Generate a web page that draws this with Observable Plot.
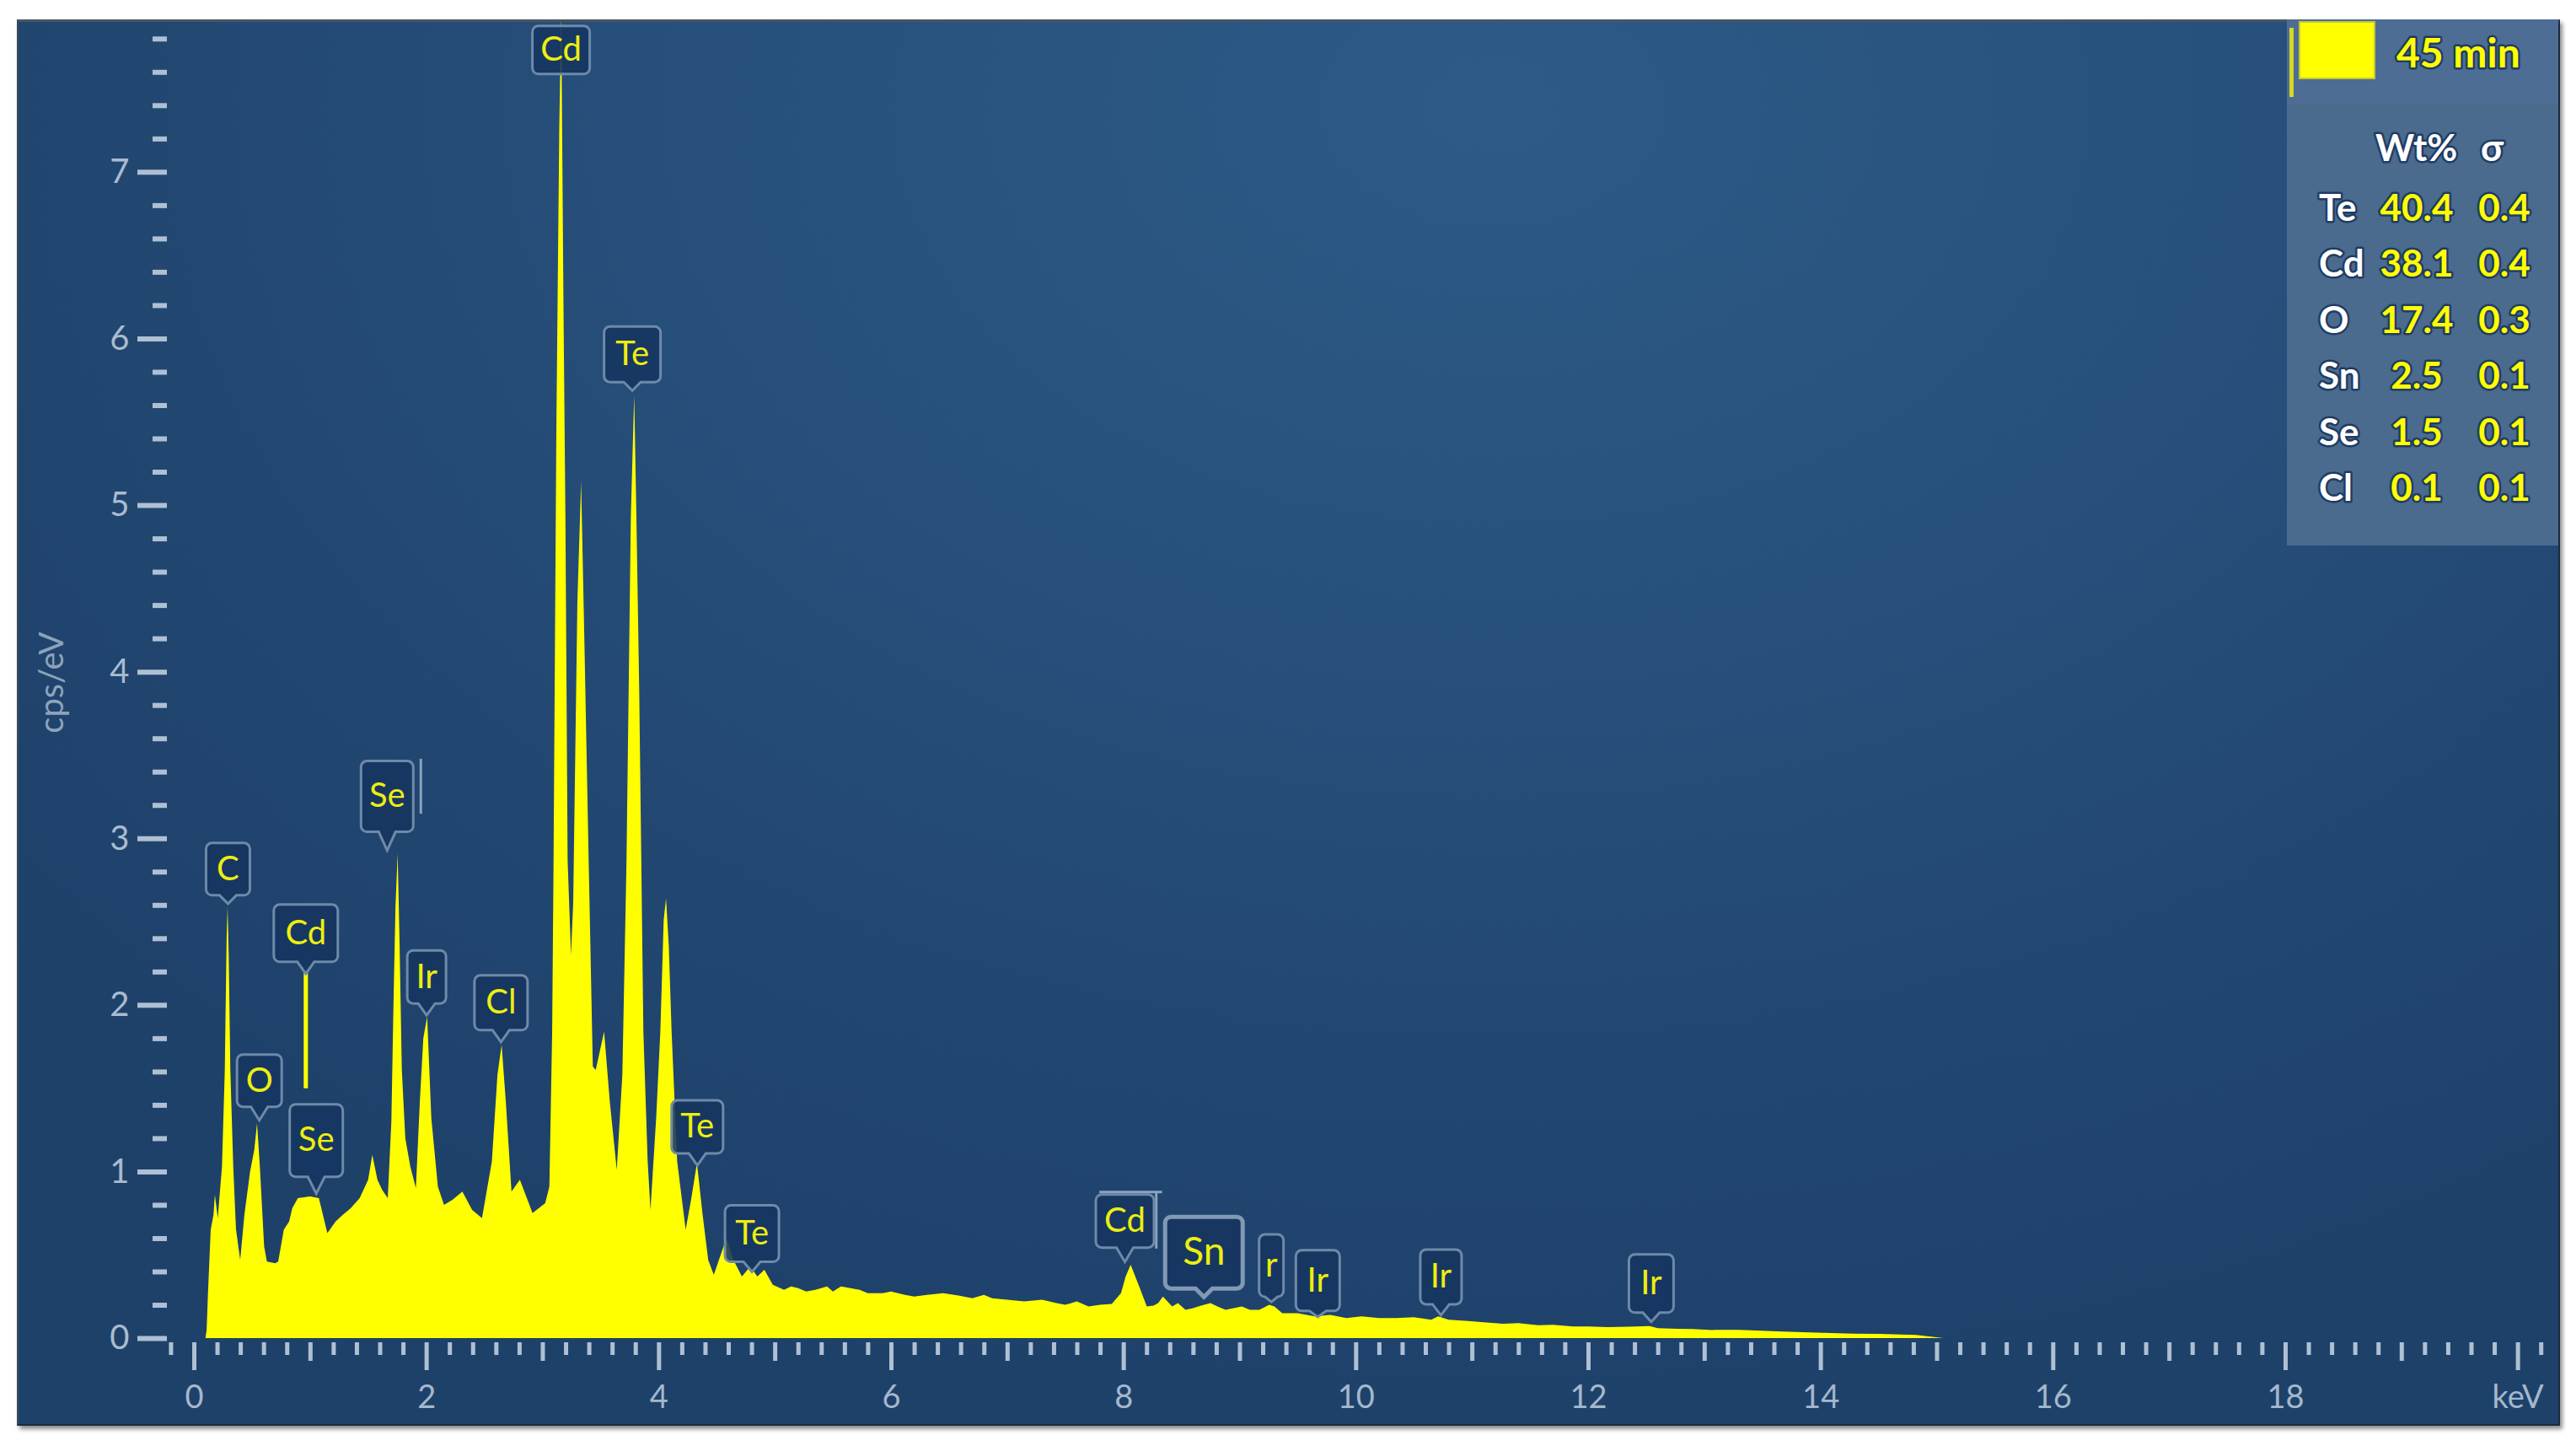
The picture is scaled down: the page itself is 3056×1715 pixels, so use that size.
<!DOCTYPE html>
<html>
<head>
<meta charset="utf-8">
<script src="https://cdn.jsdelivr.net/npm/d3@7"></script>
<script src="https://cdn.jsdelivr.net/npm/@observablehq/plot@0.6"></script>
<style>
html, body { margin: 0; padding: 0; background: #ffffff; }
#wrap { position: relative; width: 3056px; height: 1715px; overflow: hidden; background: #fff; }
#bg { position: absolute; left: 20px; top: 23px; width: 3013px; height: 1663px;
  background: radial-gradient(ellipse 75% 95% at 58% 6%, #2d5a87 0%, #28527e 35%, #214670 75%, #1e416a 100%);
  border-top: 3px solid #4a5560; border-left: 2px solid #3a4856; border-bottom: 2px solid #1a2a3c; border-right: 2px solid #1a2a3c;
  box-shadow: 3px 4px 5px rgba(0,0,0,0.45); }
#chart { position: absolute; left: 0; top: 0; }
#legend { position: absolute; left: 2713px; top: 23px; }
</style>
</head>
<body>
<div id="wrap"><div id="bg"></div><div id="chart"></div><div id="legend"></div></div>
<script>
// ---------------- data ----------------
const spectrumKeV = [0.10,0.11,0.121,0.145,0.169,0.181,0.206,0.242,0.266,0.282,0.290,0.300,0.314,0.339,0.363,0.399,0.435,0.484,0.520,0.544,0.568,0.605,0.629,0.70,0.726,0.774,0.82,0.847,0.895,1.0,1.076,1.149,1.22,1.282,1.35,1.427,1.50,1.536,1.58,1.621,1.669,1.70,1.718,1.735,1.754,1.77,1.79,1.82,1.863,1.911,1.945,1.975,2.008,2.044,2.10,2.153,2.226,2.311,2.395,2.480,2.565,2.613,2.649,2.685,2.734,2.806,2.915,3.024,3.06,3.084,3.096,3.120,3.145,3.162,3.181,3.198,3.217,3.246,3.265,3.301,3.333,3.362,3.398,3.434,3.459,3.531,3.580,3.640,3.688,3.724,3.761,3.790,3.809,3.833,3.869,3.906,3.930,3.979,4.015,4.044,4.064,4.088,4.112,4.160,4.233,4.282,4.33,4.379,4.427,4.475,4.584,4.644,4.717,4.789,4.85,4.910,4.983,
  5.08,5.14,5.20,5.27,5.35,5.45,5.50,5.57,5.65,5.73,5.80,5.93,6.00,6.12,6.20,6.31,6.45,6.59,6.70,6.80,6.87,7.00,7.146,7.30,7.424,7.50,7.60,7.70,7.80,7.90,
  7.98,8.02,8.063,8.12,8.202,8.26,8.30,8.341,8.42,8.47,8.535,8.60,8.67,8.75,8.81,8.88,8.95,9.02,9.09,9.17,9.257,9.30,9.368,9.50,9.646,9.78,9.92,10.05,10.20,10.35,10.50,10.65,
  10.71,10.80,10.97,11.10,11.27,11.40,11.57,11.70,11.87,12.00,12.17,12.35,12.53,12.60,12.77,12.90,13.07,13.30,13.68,13.90,14.28,14.50,14.82,15.06];
const spectrumCps = [0,0.05,0.26,0.65,0.74,0.86,0.72,1.03,1.6,2.4,2.59,2.3,1.61,1.03,0.65,0.47,0.74,1.0,1.13,1.29,1.03,0.55,0.46,0.45,0.46,0.65,0.70,0.78,0.84,0.85,0.84,0.63,0.70,0.74,0.78,0.84,0.95,1.10,0.95,0.89,0.84,1.3,2.0,2.58,2.91,2.39,1.61,1.2,1.03,0.90,1.42,1.80,1.93,1.32,0.91,0.80,0.83,0.88,0.77,0.72,1.06,1.58,1.76,1.42,0.88,0.95,0.75,0.81,0.91,1.84,2.87,5.45,7.26,7.95,6.22,4.93,2.87,2.3,2.61,4.42,5.14,4.16,2.87,1.63,1.61,1.84,1.42,1.01,1.58,2.87,4.93,5.66,4.93,3.9,1.84,1.06,0.77,1.32,1.84,2.51,2.64,2.35,1.84,1.06,0.65,0.84,1.05,0.74,0.47,0.38,0.60,0.47,0.37,0.43,0.37,0.41,0.32,
  0.29,0.31,0.30,0.28,0.29,0.31,0.28,0.31,0.30,0.29,0.27,0.27,0.28,0.26,0.25,0.26,0.27,0.255,0.24,0.26,0.24,0.23,0.22,0.23,0.21,0.20,0.22,0.19,0.20,0.205,
  0.27,0.37,0.44,0.34,0.19,0.195,0.21,0.25,0.19,0.21,0.17,0.18,0.195,0.21,0.19,0.17,0.18,0.19,0.17,0.17,0.20,0.19,0.15,0.15,0.13,0.14,0.12,0.13,0.12,0.12,0.125,0.11,
  0.13,0.11,0.103,0.095,0.086,0.09,0.078,0.08,0.07,0.07,0.066,0.068,0.072,0.06,0.056,0.055,0.049,0.05,0.039,0.035,0.027,0.025,0.019,0];

// peak labels: element, energy of pointer (keV), height of pointer tip (cps/eV)
const labelText = ["Cd","Te","C","Cd","Se","Ir","Cl","O","Se","Te","Te","Cd","Sn","r","Ir","Ir","Ir"];
const labelKeV  = [3.157,3.77,0.29,0.96,1.66,2.00,2.64,0.56,1.05,4.33,4.80,8.01,8.69,9.27,9.67,10.73,12.54];
const labelCps  = [7.59,5.69,2.61,2.19,2.93,1.94,1.78,1.31,0.87,1.04,0.40,0.46,0.25,0.22,0.13,0.14,0.10];

// element line marker (yellow) under the low Cd label
const cdMarkerKeV = [0.96];
const cdMarkerFrom = [1.50];
const cdMarkerTo = [2.19];

// grey marker strokes
const greyX1 = [1.95, 7.79, 8.28];
const greyY1 = [3.15, 0.88, 0.88];
const greyX2 = [1.95, 8.33, 8.28];
const greyY2 = [3.48, 0.88, 0.54];

// axes
const yTicks = [0,1,2,3,4,5,6,7];
const yTickLabels = ["0","1","2","3","4","5","6","7"];
const xTicks = [0,2,4,6,8,10,12,14,16,18,20];
const xTickLabels = ["0","2","4","6","8","10","12","14","16","18","keV"];
const xMidTicks = [1,3,5,7,9,11,13,15,17,19];
const yAxisTitle = "cps/eV";

// quantification table
const tableTitle = "45 min";
const tableElements = ["Te","Cd","O","Sn","Se","Cl"];
const tableWt = ["40.4","38.1","17.4","2.5","1.5","0.1"];
const tableSigma = ["0.4","0.4","0.3","0.1","0.1","0.1"];

// ---------------- styles ----------------
const labelBox = [ // [w, h, pointer] in px
  [68,57,0],[67,66,10],[52,62,10],[76,68,14],[62,84,22],[46,63,14],[63,65,14],[53,62,16],[63,86,20],
  [61,63,14],[64,67,12],[69,63,17],[92,85,10],[29,74,6],[52,72,7],[49,65,13],[53,69,11]
];
const YELLOW = "#ffff00";
const FONT = "Lato, 'Open Sans', 'DejaVu Sans', sans-serif";

function boxSymbol(w, h, p, r = 7, pw = 10) {
  return {
    draw(ctx) {
      const L = -w / 2, R = w / 2, T = -(h + p), B = -p;
      const q = Math.min(pw, w / 2 - r);
      ctx.moveTo(L + r, T);
      ctx.lineTo(R - r, T);
      ctx.arcTo(R, T, R, T + r, r);
      ctx.lineTo(R, B - r);
      ctx.arcTo(R, B, R - r, B, r);
      if (p > 0) { ctx.lineTo(q, B); ctx.lineTo(0, 0); ctx.lineTo(-q, B); }
      ctx.lineTo(L + r, B);
      ctx.arcTo(L, B, L, B - r, r);
      ctx.lineTo(L, T + r);
      ctx.arcTo(L, T, L + r, T, r);
      ctx.closePath();
    }
  };
}

const spectrum = spectrumKeV.map((e, i) => ({e, c: spectrumCps[i]}));
const labels = labelText.map((t, i) => ({t, x: labelKeV[i], y: labelCps[i], i}));
const cdMarker = cdMarkerKeV.map((x, i) => ({x, y1: cdMarkerFrom[i], y2: cdMarkerTo[i]}));
const greyLines = greyX1.map((x1, i) => ({x1, y1: greyY1[i], x2: greyX2[i], y2: greyY2[i]}));

const minorX = d3.range(-1, 102).map(k => k * 0.2).filter(v => Math.abs(v - Math.round(v)) > 1e-6);
const minorY = d3.range(0, 40).map(k => k * 0.2).filter(v => Math.abs(v - Math.round(v)) > 1e-6);

const labelMarks = labels.flatMap(d => {
  const [w, h, p] = labelBox[d.i];
  const isSn = d.t === "Sn";
  return [
    Plot.dot([d], {x: "x", y: "y", symbol: boxSymbol(w, h, p), r: 5,
      fill: "#163660", fillOpacity: 0.88, stroke: isSn ? "#8199b4" : "#6e8aa9", strokeWidth: isSn ? 5 : 3}),
    Plot.text([d], {x: "x", y: "y", text: "t", dy: -(p + h / 2), lineAnchor: "middle",
      fill: "#eeee10", fontSize: isSn ? 46 : 40, fontFamily: FONT})
  ];
});

const axisColor = "#aec0d3";
const chart = Plot.plot({
  width: 3056,
  height: 1715,
  marginLeft: 198,
  marginRight: 28,
  marginTop: 26,
  marginBottom: 123,
  x: {domain: [-0.232, 20.3]},
  y: {domain: [-0.025, 7.9]},
  style: {background: "transparent", fontFamily: FONT},
  marks: [
    Plot.areaY(spectrum, {x: "e", y: "c", fill: YELLOW, curve: "linear", clip: true}),
    Plot.ruleX(cdMarker, {x: "x", y1: "y1", y2: "y2", stroke: YELLOW, strokeWidth: 5}),
    Plot.link(greyLines, {x1: "x1", y1: "y1", x2: "x2", y2: "y2", stroke: "#8aa2bc", strokeWidth: 3}),
    ...labelMarks,
    Plot.axisY({ticks: yTicks, tickSize: 35, tickPadding: 10, tickFormat: d => yTickLabels[yTicks.indexOf(d)],
      stroke: axisColor, strokeWidth: 6, fill: "#a9bccf", fontSize: 40, label: null}),
    Plot.axisY({ticks: minorY, tickSize: 17, tickFormat: () => "", stroke: axisColor, strokeWidth: 6, label: null}),
    Plot.axisX({ticks: xTicks, tickSize: 33, tickPadding: 18, tickFormat: d => xTickLabels[xTicks.indexOf(d)],
      stroke: axisColor, strokeWidth: 5, fill: "#a4b8cc", fontSize: 38, label: null}),
    Plot.axisX({ticks: xMidTicks, tickSize: 22, tickFormat: () => "", stroke: axisColor, strokeWidth: 5, label: null}),
    Plot.axisX({ticks: minorX, tickSize: 15, tickFormat: () => "", stroke: axisColor, strokeWidth: 5, label: null}),
    Plot.text([yAxisTitle], {frameAnchor: "left", textAnchor: "middle", lineAnchor: "middle", dx: -136, rotate: -90,
      fill: "#8ca3bb", fontSize: 40, fontFamily: FONT})
  ]
});
document.getElementById("chart").appendChild(chart);

// ---------------- quantification legend ----------------
const W = 322, H = 624;
const lg = d3.select("#legend").append("svg").attr("width", W).attr("height", H)
  .style("font-family", FONT);
lg.append("rect").attr("width", W).attr("height", H).attr("fill", "#4a6a8e");
lg.append("rect").attr("width", W).attr("height", 100).attr("fill", "#50709a").attr("opacity", 0.5);
lg.append("rect").attr("x", 3).attr("y", 10).attr("width", 5).attr("height", 82).attr("fill", "#d8d820");
lg.append("rect").attr("x", 15).attr("y", 3).attr("width", 89).attr("height", 67).attr("fill", YELLOW)
  .attr("stroke", "#c8c830").attr("stroke-width", 2);
function outlined(sel) {
  return sel.attr("stroke", "#1f3c63").attr("stroke-width", 5).attr("paint-order", "stroke").attr("stroke-linejoin", "round");
}
outlined(lg.append("text").attr("x", 130).attr("y", 57).attr("font-size", 48).attr("font-weight", 700)
  .attr("fill", YELLOW).text(tableTitle));
outlined(lg.append("text").attr("x", 105).attr("y", 168).attr("font-size", 44).attr("font-weight", 700)
  .attr("fill", "#ffffff").text("Wt%"));
outlined(lg.append("text").attr("x", 230).attr("y", 168).attr("font-size", 44).attr("font-weight", 700)
  .attr("fill", "#ffffff").text("σ"));
tableElements.forEach((el, i) => {
  const y = 239 + 66.4 * i;
  outlined(lg.append("text").attr("x", 38).attr("y", y).attr("font-size", 44).attr("font-weight", 700)
    .attr("fill", "#ffffff").text(el));
  outlined(lg.append("text").attr("x", 154).attr("y", y).attr("text-anchor", "middle").attr("font-size", 44)
    .attr("font-weight", 700).attr("fill", YELLOW).text(tableWt[i]));
  outlined(lg.append("text").attr("x", 258).attr("y", y).attr("text-anchor", "middle").attr("font-size", 44)
    .attr("font-weight", 700).attr("fill", YELLOW).text(tableSigma[i]));
});
</script>
</body>
</html>
